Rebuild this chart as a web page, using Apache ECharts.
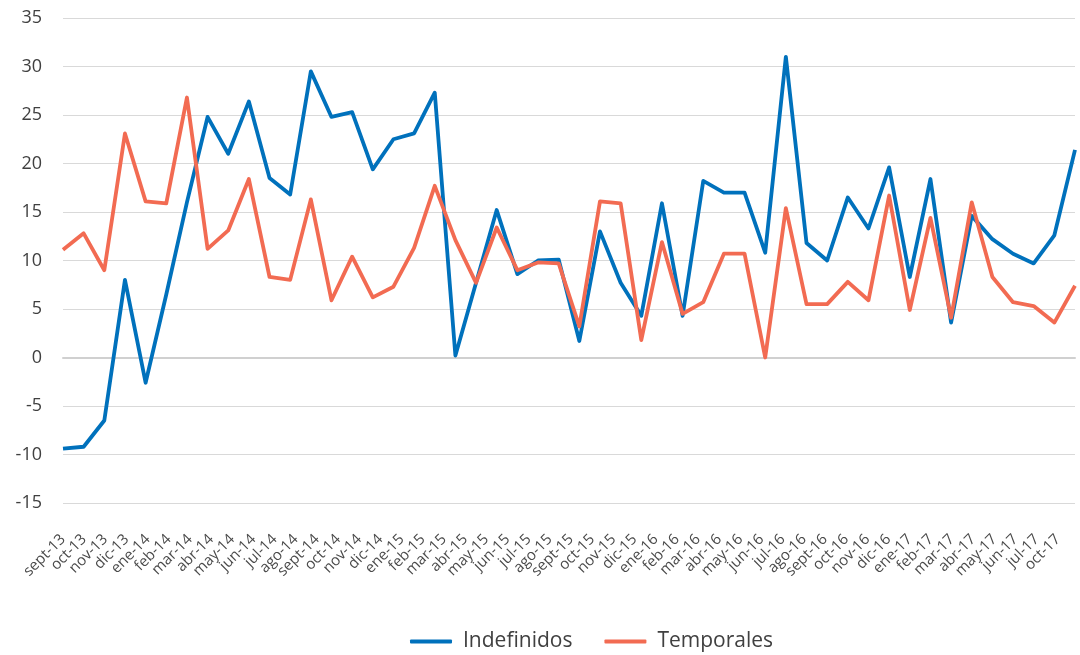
<!DOCTYPE html>
<html>
<head>
<meta charset="utf-8">
<script src="https://cdn.jsdelivr.net/npm/echarts@6/dist/echarts.min.js"></script>
<style>
  html, body { margin: 0; padding: 0; background: #ffffff; }
  #chart { width: 1080px; height: 655px; }
</style>
</head>
<body>
<div id="chart"></div>
<script>
// Monthly periods (sept-13 .. oct-17), one per data point
const categories = [
  'sept-13','oct-13','nov-13','dic-13',
  'ene-14','feb-14','mar-14','abr-14','may-14','jun-14','jul-14','ago-14','sept-14','oct-14','nov-14','dic-14',
  'ene-15','feb-15','mar-15','abr-15','may-15','jun-15','jul-15','ago-15','sept-15','oct-15','nov-15','dic-15',
  'ene-16','feb-16','mar-16','abr-16','may-16','jun-16','jul-16','ago-16','sept-16','oct-16','nov-16','dic-16',
  'ene-17','feb-17','mar-17','abr-17','may-17','jun-17','jul-17','ago-17','sept-17','oct-17'
];

// Tick labels as printed under the axis in the reference
const tickLabels = [
  'sept-13','oct-13','nov-13','dic-13',
  'ene-14','feb-14','mar-14','abr-14','may-14','jun-14','jul-14','ago-14','sept-14','oct-14','nov-14','dic-14',
  'ene-15','feb-15','mar-15','abr-15','may-15','jun-15','jul-15','ago-15','sept-15','oct-15','nov-15','dic-15',
  'ene-16','feb-16','mar-16','abr-16','may-16','jun-16','jul-16','ago-16','sept-16','oct-16','nov-16','dic-16',
  'ene-17','feb-17','mar-17','abr-17','may-17','jun-17','jul-17','oct-17'
];

const indefinidos = [
  -9.4, -9.2, -6.5, 8.0, -2.6, 6.5, 16.0, 24.8, 21.0, 26.4,
  18.5, 16.8, 29.5, 24.8, 25.3, 19.4, 22.5, 23.1, 27.3, 0.2,
  7.7, 15.2, 8.6, 10.0, 10.1, 1.7, 13.0, 7.7, 4.3, 15.9,
  4.3, 18.2, 17.0, 17.0, 10.8, 31.0, 11.8, 10.0, 16.5, 13.3,
  19.6, 8.3, 18.4, 3.6, 14.6, 12.2, 10.7, 9.7, 12.6, 21.4
];

const temporales = [
  11.1, 12.8, 9.0, 23.1, 16.1, 15.9, 26.8, 11.2, 13.1, 18.4,
  8.3, 8.0, 16.3, 5.9, 10.4, 6.2, 7.3, 11.3, 17.7, 12.1,
  7.7, 13.4, 9.0, 9.8, 9.7, 3.2, 16.1, 15.9, 1.8, 11.9,
  4.5, 5.7, 10.7, 10.7, 0.0, 15.4, 5.5, 5.5, 7.8, 5.9,
  16.7, 4.9, 14.4, 4.1, 16.0, 8.3, 5.7, 5.3, 3.6, 7.4
];

const FONT = "'Open Sans', 'Noto Sans', sans-serif";
const chart = echarts.init(document.getElementById('chart'), null, { renderer: 'canvas' });

chart.setOption({
  backgroundColor: '#ffffff',
  animation: false,
  textStyle: { fontFamily: FONT },
  grid: [
    { left: 63, right: 5, top: 18, bottom: 152, containLabel: false },
    { left: 63, right: 22, top: 18, bottom: 152, containLabel: false }
  ],
  legend: {
    bottom: 3,
    left: 410,
    padding: 0,
    icon: 'roundRect',
    itemWidth: 42,
    itemHeight: 4,
    itemGap: 32,
    textStyle: { fontFamily: FONT, fontSize: 21, color: '#404040', padding: [0, 0, 0, 6] },
    data: ['Indefinidos', 'Temporales']
  },
  xAxis: [
    {
      type: 'category',
      gridIndex: 0,
      data: categories,
      boundaryGap: false,
      axisLine: { show: true, onZero: true, lineStyle: { color: '#d0d0d0', width: 2 } },
      axisTick: { show: false },
      axisLabel: { show: false },
      splitLine: { show: false }
    },
    {
      type: 'category',
      gridIndex: 1,
      data: tickLabels,
      boundaryGap: false,
      position: 'bottom',
      axisLine: { show: false },
      axisTick: { show: false },
      splitLine: { show: false },
      axisLabel: {
        interval: 0,
        rotate: 45,
        margin: 34,
        fontSize: 15,
        fontFamily: FONT,
        color: '#4a4a4a',
        hideOverlap: false
      }
    }
  ],
  yAxis: [
    {
      type: 'value',
      gridIndex: 0,
      min: -15,
      max: 35,
      interval: 5,
      axisLine: { show: false },
      axisTick: { show: false },
      axisLabel: { fontSize: 18, fontFamily: FONT, color: '#404040', margin: 21 },
      splitLine: { show: true, lineStyle: { color: '#d9d9d9', width: 1.2 } }
    },
    {
      type: 'value',
      gridIndex: 1,
      show: false,
      min: -15,
      max: 35
    }
  ],
  series: [
    {
      name: 'Indefinidos',
      type: 'line',
      xAxisIndex: 0,
      yAxisIndex: 0,
      data: indefinidos,
      showSymbol: false,
      symbol: 'none',
      lineStyle: { color: '#0071bc', width: 3.8, join: 'round' },
      itemStyle: { color: '#0071bc' }
    },
    {
      name: 'Temporales',
      type: 'line',
      xAxisIndex: 0,
      yAxisIndex: 0,
      data: temporales,
      showSymbol: false,
      symbol: 'none',
      lineStyle: { color: '#f26b52', width: 3.8, join: 'round' },
      itemStyle: { color: '#f26b52' }
    }
  ]
});
</script>
</body>
</html>
